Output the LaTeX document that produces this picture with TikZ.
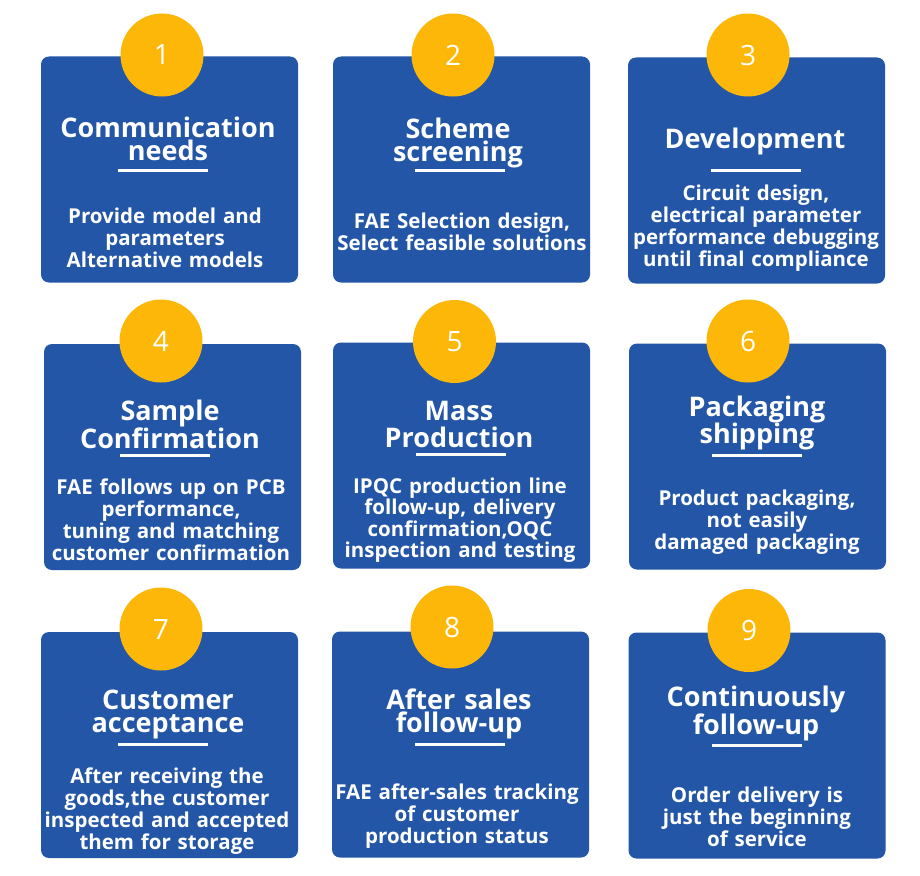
\documentclass[tikz,border=0pt]{standalone}
\usepackage{fontspec}
\setmainfont{Open Sans}
\usepackage{tikz}
\usetikzlibrary{positioning}
\definecolor{CardBlue}{RGB}{35,86,166}
\definecolor{BadgeGold}{RGB}{253,183,8}
\tikzset{
  card/.style={rectangle,rounded corners=8pt,fill=CardBlue,draw=none,
               minimum width=257pt,minimum height=226pt,inner sep=0pt},
  badge/.style={circle,fill=BadgeGold,draw=none,minimum size=83pt,inner sep=0pt,
                text=white,font=\fontsize{28}{28}\selectfont},
  ttl/.style={text=white,text width=300pt,align=center,anchor=base,inner sep=0pt,
              font=\bfseries\fontsize{27}{#1}\selectfont},
  ttl/.default=23pt,
  txt/.style={text=white,text width=300pt,align=center,anchor=base,inner sep=0pt,
              font=\bfseries\fontsize{20.5}{#1}\selectfont},
  txt/.default=22pt,
  rule/.style={rectangle,fill=white,draw=none,minimum width=90pt,
               minimum height=3pt,inner sep=0pt},
}

\begin{document}
\begin{tikzpicture}[x=1pt,y=-1pt]
  \fill[white] (0,0) rectangle (920,875);
  \useasboundingbox (0,0) rectangle (920,875);
  % row 1
  \node[card] (c1) at (169.5,169.5) {};
  \node[badge] (n1) at (162,55) {1};
  \node[ttl] (t1) at (168,137) {Communication\\needs};
  \node[rule] (u1) at (163,170) {};
  \node[txt] (d1) at (165,223) {Provide model and\\parameters\\Alternative models};

  \node[card] (c2) at (461.5,169.5) {};
  \node[badge] (n2) at (453,55) {2};
  \node[ttl] (t2) at (458,138) {Scheme\\screening};
  \node[rule] (u2) at (460,170) {};
  \node[txt] (d2) at (462,228) {FAE Selection design,\\Select feasible solutions};

  \node[card] (c3) at (756.5,170.5) {};
  \node[badge] (n3) at (748,55) {3};
  \node[ttl] (t3) at (755,148) {Development};
  \node[rule] (u3) at (756,170) {};
  \node[txt] (d3) at (756,200) {Circuit design,\\electrical parameter\\performance debugging\\until final compliance};

  % row 2
  \node[card] (c4) at (172.5,457) {};
  \node[badge] (n4) at (161,341) {4};
  \node[ttl=27pt] (t4) at (170,420) {Sample\\Confirmation};
  \node[rule] (u4) at (165,455) {};
  \node[txt] (d4) at (171,494) {FAE follows up on PCB\\performance,\\tuning and matching\\customer confirmation};

  \node[card] (c5) at (461.5,455.5) {};
  \node[badge] (n5) at (454.5,341.5) {5};
  \node[ttl=27pt] (t5) at (459,420) {Mass\\Production};
  \node[rule] (u5) at (461,454) {};
  \node[txt=21.5pt] (d5) at (460,493) {IPQC production line\\follow-up, delivery\\confirmation,OQC\\inspection and testing};

  \node[card] (c6) at (757.5,456.5) {};
  \node[badge] (n6) at (748,341) {6};
  \node[ttl=27pt] (t6) at (757,416) {Packaging\\shipping};
  \node[rule] (u6) at (757,455) {};
  \node[txt] (d6) at (757,505) {Product packaging,\\not easily\\damaged packaging};

  % row 3
  \node[card] (c7) at (169.5,745) {};
  \node[badge] (n7) at (161,629) {7};
  \node[ttl] (t7) at (168,709) {Customer\\acceptance};
  \node[rule] (u7) at (163,744) {};
  \node[txt] (d7) at (167,783) {After receiving the\\goods,the customer\\inspected and accepted\\them for storage};

  \node[card] (c8) at (460.5,744.5) {};
  \node[badge] (n8) at (452,627) {8};
  \node[ttl] (t8) at (459,709) {After sales\\follow-up};
  \node[rule] (u8) at (460,744) {};
  \node[txt] (d8) at (457,799) {FAE after-sales tracking\\of customer\\production status};

  \node[card] (c9) at (757,745.5) {};
  \node[badge] (n9) at (749,630.5) {9};
  \node[ttl=22pt] (t9) at (756,706) {Continuously\\follow-up};
  \node[rule] (u9) at (757,745) {};
  \node[txt] (d9) at (757,802) {Order delivery is\\just the beginning\\of service};
\end{tikzpicture}
\end{document}
